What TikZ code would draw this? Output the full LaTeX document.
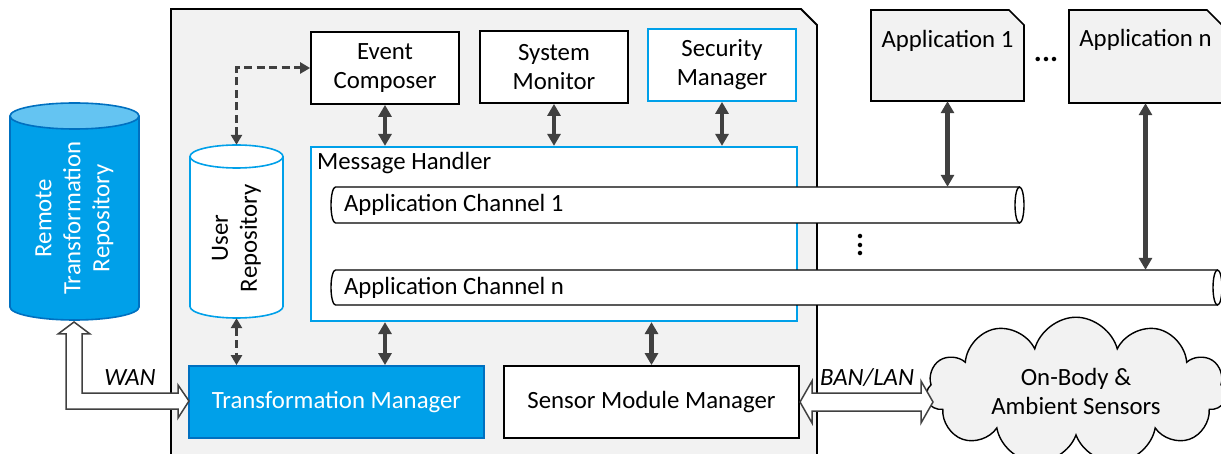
\documentclass[tikz,border=0pt]{standalone}
\usepackage{fontspec}
\setmainfont{Carlito}
\usetikzlibrary{arrows.meta,calc,shapes.symbols}

\definecolor{boxgray}{RGB}{242,242,242}
\definecolor{arrowgray}{RGB}{64,64,64}
\definecolor{hubblue}{RGB}{0,160,233}
\definecolor{hublight}{RGB}{100,196,242}
\definecolor{hubdark}{RGB}{0,112,192}

\tikzset{
  plainbox/.style={draw=black, line width=1.8pt, fill=white, align=center, inner sep=0pt,
    minimum width=148pt, minimum height=72pt},
  bluebox/.style={plainbox, draw=hubblue},
  appshape/.style={draw=black, line width=1.6pt, fill=boxgray},
  frame/.style={inner sep=0pt},
  pipe/.style={draw=black, line width=1.4pt, fill=white},
  biarrow/.style={{Triangle[width=13pt,length=12pt]}-{Triangle[width=13pt,length=12pt]},
    line width=4.5pt, draw=arrowgray},
  dasharrow/.style={{Triangle[width=11pt,length=10pt]}-{Triangle[width=11pt,length=10pt]},
    line width=3pt, draw=arrowgray, dash pattern=on 8pt off 4.5pt},
  blockarrow/.style={draw=arrowgray, line width=1.5pt, fill=white, line join=miter},
}

\begin{document}
\begin{tikzpicture}[x=1pt,y=1pt,yscale=-1,xscale=1,font=\fontsize{24.8}{29}\selectfont]
\useasboundingbox (0,0) rectangle (1221,454);

% Hub frame
\draw [fill=boxgray, line width=1.8pt] (171,9) -- (801,9) -- (817,25) -- (817,470) -- (171,470) -- cycle ;

% Shape: Can [remote repository]
\draw [draw=hubdark, fill=hubblue, line width=1.6pt] (10,116) -- (10,307) arc [start angle=180, end angle=0, x radius=64.5, y radius=13] -- (139,116) ;
\draw [draw=hubdark, fill=hublight, line width=1.6pt] (74.5,116) ellipse [x radius=64.5, y radius=13] ;
\node [frame, rotate=90, minimum width=217pt, minimum height=129pt] (rtr) at (74.5,211.5) {};
\node [rotate=90, align=center, text=white] (rtrtext) at (74.5,218) {Remote\\Transformation\\Repository};

% Shape: Can [user repository]
\draw [draw=hubblue, fill=white, line width=1.6pt] (190,156.5) -- (190,306.5) arc [start angle=180, end angle=0, x radius=46.5, y radius=11.5] -- (283,156.5) ;
\draw [draw=hubblue, fill=white, line width=1.6pt] (236.5,156.5) ellipse [x radius=46.5, y radius=11.5] ;
\node [frame, rotate=90, minimum width=173pt, minimum height=93pt] (ur) at (236.5,231.5) {};
\node [rotate=90, align=center] (urtext) at (236.5,238) {User\\Repository};

% Top row
\node [plainbox] (ec) at (385,68) {Event\\Composer};
\node [plainbox] (sm) at (554,67) {System\\Monitor};
\node [bluebox] (secm) at (722,65) {Security\\Manager};

% Message Handler
\node [draw=hubblue, line width=2.2pt, fill=white, minimum width=486pt, minimum height=174pt] (mh) at (554,234) {};
\node [anchor=north west, inner sep=0pt] (mhlabel) at ($(mh.north west)+(7,6)$) {Message Handler};

% Shape: Pipe [channel 1]
\draw [pipe] (1019.5,187) -- (335.5,187) arc [start angle=270, end angle=90, x radius=4.5, y radius=18] -- (1019.5,223) ;
\draw [pipe] (1019.5,205) ellipse [x radius=4.5, y radius=18] ;
\node [frame, minimum width=693pt, minimum height=36pt] (ch1) at (677.5,205) {};
\node [anchor=west, inner sep=0pt] (ch1label) at ($(ch1.west)+(13,0)$) {Application Channel 1};

% Shape: Pipe [channel n]
\draw [pipe] (1217.5,270) -- (335.5,270) arc [start angle=270, end angle=90, x radius=4.5, y radius=17.5] -- (1217.5,305) ;
\draw [pipe] (1217.5,287.5) ellipse [x radius=4.5, y radius=17.5] ;
\node [frame, minimum width=891pt, minimum height=35pt] (chn) at (776.5,287.5) {};
\node [anchor=west, inner sep=0pt] (chnlabel) at ($(chn.west)+(13,0)$) {Application Channel n};
\node [rotate=90, font=\fontsize{30}{30}\selectfont\bfseries] (vdots) at (860,245) {...};

% Bottom row
\node [plainbox, draw=hubdark, fill=hubblue, text=white, minimum width=295pt] (tm) at (336.5,402) {Transformation Manager};
\node [plainbox, minimum width=295pt] (smm) at (651.5,402) {Sensor Module Manager};

% Shape: Folder corner [applications]
\draw [appshape] (871,10) -- (1009,10) -- (1024,25) -- (1024,101) -- (871,101) -- cycle ;
\node [frame, minimum width=153pt, text height=38pt, text depth=53pt] (app1) at (947.5,55.5) {Application 1};
\draw [appshape] (1069,10) -- (1207,10) -- (1222,25) -- (1222,103) -- (1069,103) -- cycle ;
\node [frame, minimum width=153pt, text height=37pt, text depth=56pt] (appn) at (1145.5,56.5) {Application n};
\node [font=\fontsize{30}{30}\selectfont\bfseries] (hdots) at (1046,59) {...};

% Sensors
\node [cloud, cloud puffs=11, aspect=2.4, draw=black, line width=1.4pt, fill=boxgray, align=center,
  minimum width=300pt, minimum height=126pt, inner sep=0pt] (sens) at (1076,391) {On-Body \&\\Ambient Sensors};

% Links inside the hub
\draw [biarrow] (ec.south) -- (ec.south |- mh.north);
\draw [biarrow] (sm.south) -- (sm.south |- mh.north);
\draw [biarrow] (secm.south) -- (secm.south |- mh.north);
\draw [biarrow] (ec.south |- mh.south) -- (ec.south |- tm.north);
\draw [biarrow] (smm.north |- mh.south) -- (smm.north);
\draw [dasharrow] (ur.east) |- (ec.west);
\draw [dasharrow] (ur.west) -- (ur.west |- tm.north);

% Links to the applications
\draw [biarrow] (app1.south) -- (app1.south |- ch1.north);
\draw [biarrow] (appn.south) -- (appn.south |- chn.north);

% WAN
\draw [blockarrow] (74,322) -- (90,334) -- (82,334) -- (82,393) -- (178,393) -- (178,385) -- (189,401)
  -- (178,418) -- (178,409) -- (66,409) -- (66,334) -- (58,334) -- cycle ;
\node [font=\fontsize{24.8}{29}\selectfont\itshape] (wan) at (130,378) {WAN};

% BAN/LAN
\draw [blockarrow] (800,402) -- (812,381) -- (812,393) -- (921,393) -- (921,381) -- (933,402)
  -- (921,423) -- (921,411) -- (812,411) -- (812,423) -- cycle ;
\node [font=\fontsize{24.8}{29}\selectfont\itshape] (banlan) at (867,378) {BAN/LAN};

\end{tikzpicture}
\end{document}
